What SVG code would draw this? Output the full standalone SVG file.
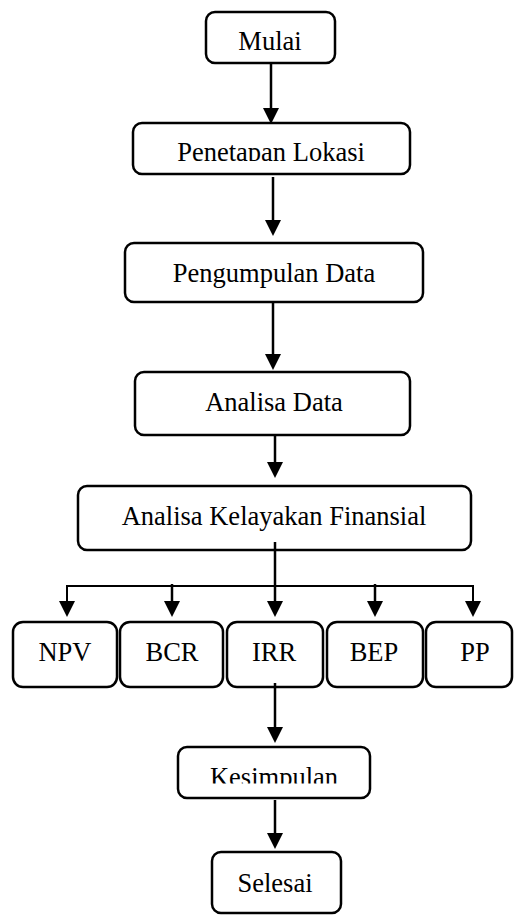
<svg xmlns="http://www.w3.org/2000/svg" width="514" height="916" viewBox="0 0 514 916">
<style>
.box{fill:#fff;stroke:#000;stroke-width:2.5}
.lbl{font-family:"Liberation Serif","Times New Roman",serif;font-size:26.5px;text-anchor:middle;fill:#000}
.conn{stroke:#000;stroke-width:2.5;fill:none}
.thin{stroke:#000;stroke-width:2;fill:none}
</style>
<defs>
<marker id="ah" markerUnits="userSpaceOnUse" markerWidth="16" markerHeight="16" refX="8" refY="8" orient="auto">
<path d="M0,0 L16,8 L0,16 Z" fill="#000"/>
</marker>
<clipPath id="clipPen"><rect x="130" y="120" width="285" height="41"/></clipPath>
<clipPath id="clipKes"><rect x="175" y="745" width="200" height="38.5"/></clipPath>
</defs>
<rect width="514" height="916" fill="#fff"/>
<g id="mulai"><rect class="box" x="206" y="12" width="129" height="51" rx="9"/><text class="lbl" x="270" y="50">Mulai</text></g>
<g id="penetapan"><rect class="box" x="133" y="123" width="277" height="51" rx="9"/><text class="lbl" x="271" y="160.5" clip-path="url(#clipPen)">Penetapan Lokasi</text></g>
<g id="pengumpulan"><rect class="box" x="125" y="243" width="298" height="59" rx="9"/><text class="lbl" x="274" y="282">Pengumpulan Data</text></g>
<g id="analisa"><rect class="box" x="135" y="372" width="275" height="63" rx="9"/><text class="lbl" x="274" y="411">Analisa Data</text></g>
<g id="kelayakan"><rect class="box" x="78" y="486" width="393" height="64" rx="9"/><text class="lbl" x="274" y="525">Analisa Kelayakan Finansial</text></g>
<g id="npv"><rect class="box" x="13" y="622" width="104" height="65" rx="10"/><text class="lbl" x="65" y="661">NPV</text></g>
<g id="bcr"><rect class="box" x="120" y="622" width="103" height="65" rx="10"/><text class="lbl" x="172" y="661">BCR</text></g>
<g id="irr"><rect class="box" x="227" y="622" width="96" height="65" rx="10"/><text class="lbl" x="274" y="661">IRR</text></g>
<g id="bep"><rect class="box" x="327" y="622" width="96" height="65" rx="10"/><text class="lbl" x="374" y="661">BEP</text></g>
<g id="pp"><rect class="box" x="426" y="622" width="86" height="65" rx="10"/><text class="lbl" x="475" y="661">PP</text></g>
<g id="kesimpulan"><rect class="box" x="178" y="747" width="192" height="51" rx="9"/><text class="lbl" x="274" y="786" clip-path="url(#clipKes)">Kesimpulan</text></g>
<g id="selesai"><rect class="box" x="212" y="852" width="129" height="61" rx="9"/><text class="lbl" x="275" y="892">Selesai</text></g>
<g id="connectors">
<line class="conn" x1="271" y1="63" x2="271" y2="116" marker-end="url(#ah)"/>
<line class="conn" x1="273" y1="177" x2="273" y2="228" marker-end="url(#ah)"/>
<line class="conn" x1="273" y1="303" x2="273" y2="362" marker-end="url(#ah)"/>
<line class="conn" x1="275" y1="435" x2="275" y2="470" marker-end="url(#ah)"/>
<line class="conn" x1="275" y1="542" x2="275" y2="609" marker-end="url(#ah)"/>
<polyline class="thin" points="67,609 67,586 473,586 473,609"/>
<line class="thin" x1="67" y1="600" x2="67" y2="609" marker-end="url(#ah)"/>
<line class="thin" x1="473" y1="600" x2="473" y2="609" marker-end="url(#ah)"/>
<line class="conn" x1="172" y1="584" x2="172" y2="609" marker-end="url(#ah)"/>
<line class="conn" x1="375" y1="584" x2="375" y2="609" marker-end="url(#ah)"/>
<line class="conn" x1="275" y1="683" x2="275" y2="735" marker-end="url(#ah)"/>
<line class="conn" x1="275" y1="800" x2="275" y2="841" marker-end="url(#ah)"/>
</g>
</svg>
